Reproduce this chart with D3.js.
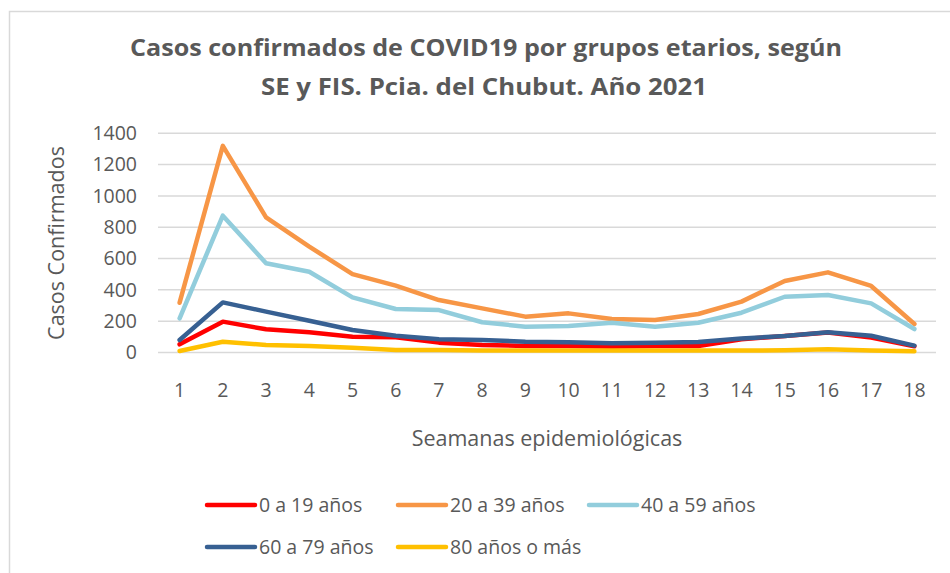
<!DOCTYPE html>
<html>
<head>
<meta charset="utf-8">
<script src="https://d3js.org/d3.v7.min.js"></script>
<style>
  body { margin: 0; background: #fff; }
  text { font-family: "Open Sans", "Noto Sans", sans-serif; fill: #595959; }
</style>
</head>
<body>
<script>
const weeks = ["1","2","3","4","5","6","7","8","9","10","11","12","13","14","15","16","17","18"];
const age0to19  = [52, 197, 148, 129, 101, 97, 63, 48, 42, 42, 37, 42, 42, 85, 105, 128, 95, 40];
const age20to39 = [318, 1320, 863, 676, 501, 427, 335, 282, 229, 250, 214, 207, 246, 325, 457, 512, 425, 182];
const age40to59 = [218, 874, 570, 516, 352, 278, 271, 193, 165, 169, 190, 165, 190, 254, 356, 367, 314, 150];
const age60to79 = [80, 320, 261, 203, 144, 107, 84, 80, 69, 65, 59, 63, 67, 90, 105, 129, 107, 44];
const age80plus = [10, 69, 48, 42, 31, 16, 16, 12, 12, 12, 12, 12, 12, 12, 14, 20, 12, 8];
const yTicks = [0, 200, 400, 600, 800, 1000, 1200, 1400];

const series = [
  { name: "0 a 19 años", values: age0to19, color: "#FF0000" },
  { name: "20 a 39 años", values: age20to39, color: "#F79646" },
  { name: "40 a 59 años", values: age40to59, color: "#92CDDC" },
  { name: "60 a 79 años", values: age60to79, color: "#376092" },
  { name: "80 años o más", values: age80plus, color: "#FFC000" }
];

const W = 950, H = 573;
const svg = d3.select("body").append("svg").attr("width", W).attr("height", H);

// chart frame (only left and top edges are inside the picture)
svg.append("path")
  .attr("d", "M9.5,573 V11.5 H950")
  .attr("fill", "none").attr("stroke", "#d9d9d9").attr("stroke-width", 1.5);

// title
const title = svg.append("g").attr("font-weight", "bold").attr("font-size", 24);
title.append("text").attr("x", 486).attr("y", 56).attr("text-anchor", "middle")
  .attr("textLength", 712).attr("lengthAdjust", "spacingAndGlyphs")
  .text("Casos confirmados de COVID19 por grupos etarios, según");
title.append("text").attr("x", 484).attr("y", 95).attr("text-anchor", "middle")
  .attr("textLength", 446).attr("lengthAdjust", "spacingAndGlyphs")
  .text("SE y FIS. Pcia. del Chubut. Año 2021");

const x = d3.scaleBand().domain(weeks).range([158, 936]);
const y = d3.scaleLinear().domain([0, 1400]).range([352.5, 133.3]);

// gridlines
svg.append("g").selectAll("line").data(yTicks).enter().append("line")
  .attr("x1", 158).attr("x2", 936)
  .attr("y1", d => y(d)).attr("y2", d => y(d))
  .attr("stroke", "#d9d9d9").attr("stroke-width", 1.5);

// y axis labels
const yAxis = svg.append("g").attr("transform", "translate(137,0)")
  .call(d3.axisLeft(y).tickValues(yTicks).tickFormat(d3.format("d")).tickSize(0).tickPadding(0));
yAxis.select(".domain").remove();
yAxis.selectAll("text").attr("font-size", 19.5).attr("fill", "#595959")
  .style("font-family", "'Open Sans', sans-serif");

// x axis labels
const xAxis = svg.append("g").attr("transform", "translate(0,383)")
  .call(d3.axisBottom(x).tickSize(0).tickPadding(0));
xAxis.select(".domain").remove();
xAxis.selectAll("text").attr("font-size", 19.5).attr("fill", "#595959")
  .style("font-family", "'Open Sans', sans-serif");

// axis titles
svg.append("text").attr("transform", "translate(64,243) rotate(-90)")
  .attr("text-anchor", "middle").attr("font-size", 21.5).text("Casos Confirmados");
svg.append("text").attr("x", 547).attr("y", 446)
  .attr("text-anchor", "middle").attr("font-size", 21.5).text("Seamanas epidemiológicas");

// lines
const line = d3.line().x((d, i) => x(weeks[i]) + x.bandwidth() / 2).y(d => y(d));
svg.append("g").selectAll("path").data(series).enter().append("path")
  .attr("d", d => line(d.values))
  .attr("fill", "none").attr("stroke", d => d.color)
  .attr("stroke-width", 4.5).attr("stroke-linejoin", "round").attr("stroke-linecap", "round");

// legend
const legendPos = [[207, 505], [398, 505], [589, 505], [207, 547], [398, 547]];
const legend = svg.append("g").selectAll("g").data(series).enter().append("g")
  .attr("transform", (d, i) => `translate(${legendPos[i][0]},${legendPos[i][1]})`);
legend.append("line").attr("x1", 0).attr("x2", 48).attr("y1", 0).attr("y2", 0)
  .attr("stroke", d => d.color).attr("stroke-width", 4.5).attr("stroke-linecap", "round");
legend.append("text").attr("x", 52).attr("y", 7).attr("font-size", 19.5).text(d => d.name);
</script>
</body>
</html>
